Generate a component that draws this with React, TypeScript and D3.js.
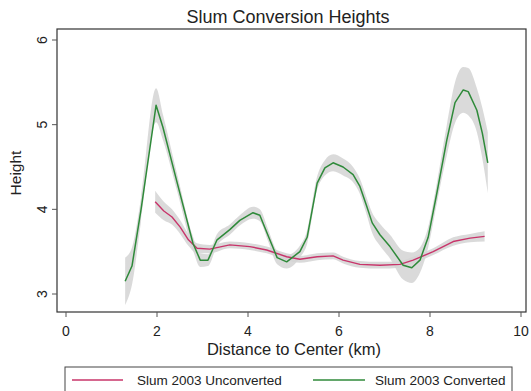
import React from "react";
import * as d3 from "d3";

// Slum 2003 Converted (green), lowess estimate and CI half-width
const convX = [1.3, 1.45, 1.65, 1.98, 2.13, 2.45, 2.79, 2.95, 3.12, 3.32, 3.6, 3.82, 4.11, 4.26, 4.45, 4.64, 4.85, 5.14, 5.3, 5.52, 5.69, 5.87, 6.09, 6.31, 6.46, 6.6, 6.73, 6.9, 7.12, 7.41, 7.6, 7.78, 7.96, 8.15, 8.37, 8.55, 8.73, 8.84, 9.03, 9.15, 9.27];
const convY = [3.15, 3.33, 4.0, 5.23, 4.97, 4.3, 3.6, 3.4, 3.4, 3.64, 3.76, 3.87, 3.96, 3.93, 3.68, 3.43, 3.38, 3.5, 3.67, 4.31, 4.49, 4.55, 4.5, 4.41, 4.27, 4.05, 3.84, 3.7, 3.56, 3.34, 3.31, 3.4, 3.67, 4.19, 4.82, 5.26, 5.41, 5.39, 5.17, 4.9, 4.55];
const convSE = [0.28, 0.22, 0.14, 0.2, 0.15, 0.1, 0.08, 0.08, 0.07, 0.07, 0.06, 0.06, 0.07, 0.07, 0.07, 0.08, 0.08, 0.07, 0.08, 0.08, 0.09, 0.1, 0.1, 0.09, 0.09, 0.1, 0.12, 0.13, 0.14, 0.17, 0.18, 0.15, 0.12, 0.12, 0.18, 0.24, 0.27, 0.28, 0.26, 0.3, 0.36];

// Slum 2003 Unconverted (red)
const unconvX = [1.96, 2.15, 2.33, 2.51, 2.69, 2.88, 3.16, 3.6, 4.04, 4.41, 4.85, 5.14, 5.52, 5.87, 6.09, 6.46, 6.9, 7.34, 7.63, 8.07, 8.51, 8.88, 9.2];
const unconvY = [4.09, 3.98, 3.91, 3.79, 3.64, 3.54, 3.53, 3.58, 3.56, 3.52, 3.44, 3.41, 3.44, 3.45, 3.4, 3.35, 3.34, 3.35, 3.4, 3.5, 3.62, 3.66, 3.68];
const unconvSE = [0.13, 0.11, 0.09, 0.08, 0.07, 0.06, 0.05, 0.04, 0.04, 0.04, 0.04, 0.04, 0.04, 0.04, 0.04, 0.04, 0.04, 0.04, 0.04, 0.04, 0.05, 0.05, 0.06];

const xTicks = [0, 2, 4, 6, 8, 10];
const yTicks = [3, 4, 5, 6];
const seriesNames = ["Slum 2003 Unconverted", "Slum 2003 Converted"];

const RED = "#c8346a";
const GREEN = "#2f8a3a";
const FONT = "Liberation Sans, Arial, sans-serif";

type Pt = { x: number; y: number; se: number };
const zip = (xs: number[], ys: number[], se: number[]): Pt[] =>
  xs.map((x, i) => ({ x, y: ys[i], se: se[i] }));

export default function App() {
  const W = 531, H = 391;
  const frame = { l: 57, r: 526, t: 29, b: 312 };
  const x = d3.scaleLinear().domain([0, 10]).range([66, 521]);
  const y = d3.scaleLinear().domain([3, 6]).range([294, 40]);

  const line = d3.line<Pt>().x((d) => x(d.x)).y((d) => y(d.y));
  const band = d3
    .area<Pt>()
    .x((d) => x(d.x))
    .y0((d) => y(d.y - d.se))
    .y1((d) => y(d.y + d.se))
    .curve(d3.curveMonotoneX);

  const conv = zip(convX, convY, convSE);
  const unconv = zip(unconvX, unconvY, unconvSE);

  return (
    <svg
      width={W}
      height={H}
      style={{ position: "absolute", left: 0, top: 0, background: "#fff" }}
      fontFamily={FONT}
    >
      <text x={288} y={23} textAnchor="middle" fontSize={18} fill="#222">
        Slum Conversion Heights
      </text>

      {/* confidence bands */}
      <path d={band(unconv) ?? ""} fill="#d4d4d4" opacity={0.85} />
      <path d={band(conv) ?? ""} fill="#d4d4d4" opacity={0.85} />

      {/* lines */}
      <path d={line(unconv) ?? ""} fill="none" stroke={RED} strokeWidth={1.4} strokeLinejoin="round" />
      <path d={line(conv) ?? ""} fill="none" stroke={GREEN} strokeWidth={1.5} strokeLinejoin="round" />

      {/* frame */}
      <rect
        x={frame.l}
        y={frame.t}
        width={frame.r - frame.l}
        height={frame.b - frame.t}
        fill="none"
        stroke="#333"
        strokeWidth={1.2}
      />

      {/* x axis */}
      {xTicks.map((t) => (
        <g key={"x" + t}>
          <line x1={x(t)} x2={x(t)} y1={frame.b} y2={frame.b + 5} stroke="#555" />
          <text x={x(t)} y={336} textAnchor="middle" fontSize={14} fill="#222">
            {t}
          </text>
        </g>
      ))}
      <text x={294} y={355} textAnchor="middle" fontSize={16.5} fill="#222">
        Distance to Center (km)
      </text>

      {/* y axis */}
      {yTicks.map((t) => (
        <g key={"y" + t}>
          <line x1={frame.l - 5} x2={frame.l} y1={y(t)} y2={y(t)} stroke="#555" />
          <text
            transform={`translate(47,${y(t)}) rotate(-90)`}
            textAnchor="middle"
            fontSize={14}
            fill="#222"
          >
            {t}
          </text>
        </g>
      ))}
      <text
        transform="translate(21,173) rotate(-90)"
        textAnchor="middle"
        fontSize={15.5}
        fill="#222"
      >
        Height
      </text>

      {/* legend */}
      <rect x={65} y={367} width={447} height={40} fill="#fff" stroke="#444" strokeWidth={1} />
      <line x1={72} x2={123} y1={380} y2={380} stroke={RED} strokeWidth={1.5} />
      <text x={137} y={385} fontSize={13.5} fill="#222">
        {seriesNames[0]}
      </text>
      <line x1={313} x2={365} y1={380} y2={380} stroke={GREEN} strokeWidth={1.5} />
      <text x={375} y={385} fontSize={13.5} fill="#222">
        {seriesNames[1]}
      </text>
    </svg>
  );
}
